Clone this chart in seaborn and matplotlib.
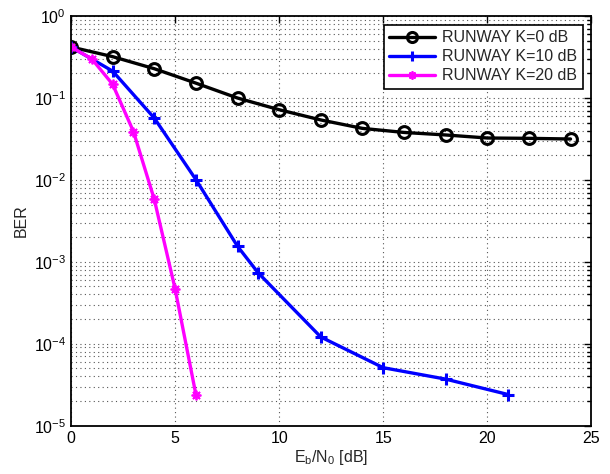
import matplotlib
matplotlib.use("Agg")
import matplotlib.pyplot as plt
import seaborn as sns
import pandas as pd
from matplotlib.ticker import LogLocator, NullFormatter, NullLocator
from matplotlib.lines import Line2D

# values
x_k0 = [0, 2, 4, 6, 8, 10, 12, 14, 16, 18, 20, 22, 24]
ber_k0 = [0.42, 0.32, 0.228, 0.152, 0.100, 0.072, 0.054, 0.0426, 0.038, 0.0354, 0.0325, 0.0322, 0.0316]

x_k10 = [0, 2, 4, 6, 8, 9, 12, 15, 18, 21]
ber_k10 = [0.42, 0.213, 0.057, 0.0101, 0.00155, 0.00073, 0.000121, 5.1e-5, 3.7e-5, 2.4e-5]

x_k20 = [0, 1, 2, 3, 4, 5, 6]
ber_k20 = [0.42, 0.30, 0.147, 0.039, 0.0058, 0.00047, 2.4e-5]

labels = ["RUNWAY K=0 dB", "RUNWAY K=10 dB", "RUNWAY K=20 dB"]
colors = ["black", "blue", "magenta"]
markers = ["o", "+", (8, 2, 0)]
msizes = [8.5, 9, 7]
mews = [2.2, 2.2, 1.3]

sns.set_theme(style="white")
plt.rcParams["font.family"] = ["Liberation Sans", "DejaVu Sans"]
plt.rcParams["mathtext.fontset"] = "custom"
plt.rcParams["mathtext.rm"] = "Liberation Sans"
plt.rcParams["mathtext.it"] = "Liberation Sans"
fs = 11.5

fig = plt.figure(figsize=(6.1, 4.74), dpi=100)
ax = fig.add_axes([0.1164, 0.102, 0.853, 0.864])

for xs, ys, c in zip([x_k0, x_k10, x_k20], [ber_k0, ber_k10, ber_k20], colors):
    d = pd.DataFrame({"EbN0": xs, "BER": ys})
    sns.lineplot(data=d, x="EbN0", y="BER", color=c, linewidth=2.4, ax=ax)

# set markers directly on the seaborn lines
for line, c, m, ms, mw in zip(ax.lines, colors, markers, msizes, mews):
    line.set_marker(m)
    line.set_markersize(ms)
    line.set_markeredgewidth(mw)
    line.set_markeredgecolor(c)
    line.set_markerfacecolor("none" if m == "o" else c)

ax.set_yscale("log")
ax.set_xlim(0, 25)
ax.set_ylim(1e-5, 1)
ax.set_xticks([0, 5, 10, 15, 20, 25])
ax.yaxis.set_major_locator(LogLocator(base=10, numticks=10))
ax.yaxis.set_minor_locator(LogLocator(base=10, subs=range(2, 10), numticks=20))
ax.yaxis.set_minor_formatter(NullFormatter())
ax.xaxis.set_minor_locator(NullLocator())

ax.grid(True, which="major", linestyle=(0, (1, 3)), color="#555555", linewidth=0.8)
ax.grid(True, which="minor", axis="y", linestyle=(0, (1, 3)), color="#555555", linewidth=0.8)
ax.tick_params(which="both", direction="in", top=True, right=True, labelsize=fs, colors="black")
ax.tick_params(which="major", length=5, width=1)
ax.tick_params(which="minor", length=3, width=1)
for sp in ax.spines.values():
    sp.set_color("black")
    sp.set_linewidth(1.3)

ax.set_xlabel(r"E$_\mathrm{b}$/N$_\mathrm{0}$ [dB]", fontsize=fs, labelpad=2)
ax.set_ylabel("BER", fontsize=fs, labelpad=4)

handles = [Line2D([0], [0], color=c, marker=m, linewidth=2.4, markersize=ms * 0.85,
                  markeredgewidth=mw, markerfacecolor="none" if m == "o" else c)
           for c, m, ms, mw in zip(colors, markers, msizes, mews)]
leg = ax.legend(handles, labels, loc="upper right", fontsize=fs, frameon=True,
                fancybox=False, edgecolor="black", framealpha=1,
                handlelength=2.9, borderpad=0.35, labelspacing=0.25,
                handletextpad=0.4, borderaxespad=0.55)
leg.get_frame().set_linewidth(1.2)

fig.savefig("out.png", dpi=100)
